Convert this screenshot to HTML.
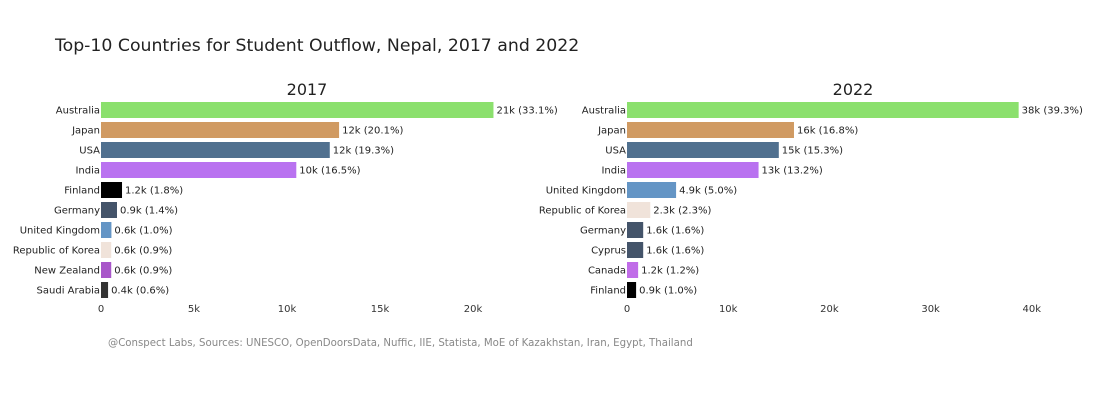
<!DOCTYPE html>
<html><head><meta charset="utf-8">
<style>
body{margin:0;background:#fff;font-family:"DejaVu Sans",sans-serif;}
svg text{font-family:"DejaVu Sans",sans-serif;}
</style></head>
<body>
<svg id="chart" width="1100" height="400">
<rect width="1100" height="400" fill="#fff"/>
<text x="55" y="51" font-size="17.3" fill="#222">Top-10 Countries for Student Outflow, Nepal, 2017 and 2022</text>
<text x="108" y="346" font-size="10.2" fill="#888">@Conspect Labs, Sources: UNESCO, OpenDoorsData, Nuffic, IIE, Statista, MoE of Kazakhstan, Iran, Egypt, Thailand</text>
<g id="p1"></g><g id="p2"></g>
</svg>
<script>
const cats2017=["Australia","Japan","USA","India","Finland","Germany","United Kingdom","Republic of Korea","New Zealand","Saudi Arabia"];
const vals2017=[21.1,12.8,12.3,10.5,1.13,0.86,0.56,0.55,0.55,0.38];
const labels2017=["21k (33.1%)","12k (20.1%)","12k (19.3%)","10k (16.5%)","1.2k (1.8%)","0.9k (1.4%)","0.6k (1.0%)","0.6k (0.9%)","0.6k (0.9%)","0.4k (0.6%)"];
const cols2017=["#8be06d","#d09a62","#50708f","#b972f0","#000000","#44546a","#6495c5","#f0e3da","#a856c9","#333333"];
const ticks2017=[0,5,10,15,20];
const tickLabels2017=["0","5k","10k","15k","20k"];
const cats2022=["Australia","Japan","USA","India","United Kingdom","Republic of Korea","Germany","Cyprus","Canada","Finland"];
const vals2022=[38.7,16.5,15.0,13.0,4.85,2.3,1.6,1.6,1.1,0.9];
const labels2022=["38k (39.3%)","16k (16.8%)","15k (15.3%)","13k (13.2%)","4.9k (5.0%)","2.3k (2.3%)","1.6k (1.6%)","1.6k (1.6%)","1.2k (1.2%)","0.9k (1.0%)"];
const cols2022=["#8be06d","#d09a62","#50708f","#b972f0","#6495c5","#f0e3da","#44546a","#44546a","#c06ce8","#000000"];
const ticks2022=[0,10,20,30,40];
const tickLabels2022=["0","10k","20k","30k","40k"];
const NS="http://www.w3.org/2000/svg";
function mk(g,tag,a){const e=document.createElementNS(NS,tag);for(const k in a)e.setAttribute(k,a[k]);g.appendChild(e);return e;}
function panel(g,title,x0,pxPerK,cats,vals,labels,cols,ticks,tl){
  const xs=v=>x0+v*pxPerK, ys=i=>110+i*20;
  const t=mk(g,'text',{x:x0+(title==="2017"?206:226),y:95,'font-size':16,fill:'#222','text-anchor':'middle'});t.textContent=title;
  
  
  ticks.forEach((v,i)=>{const e=mk(g,'text',{x:xs(v),y:312,'font-size':10,fill:'#333','text-anchor':'middle'});e.textContent=tl[i];
    
    });
  cats.forEach((c,i)=>{
    const r=mk(g,'rect',{x:xs(0),y:ys(i)-8,width:xs(vals[i])-xs(0),height:16,fill:cols[i]});
    
    
    const l=mk(g,'text',{x:xs(0)-1,y:ys(i)+3.5,'font-size':10,fill:'#222','text-anchor':'end'});l.textContent=c;
    
    
    const v=mk(g,'text',{x:xs(vals[i])+3,y:ys(i)+3.5,'font-size':10,fill:'#222'});v.textContent=labels[i];
    
    
  });
}
panel(document.getElementById('p1'),"2017",101,18.6,cats2017,vals2017,labels2017,cols2017,ticks2017,tickLabels2017);
panel(document.getElementById('p2'),"2022",627,10.12,cats2022,vals2022,labels2022,cols2022,ticks2022,tickLabels2022);
</script>
</body></html>
